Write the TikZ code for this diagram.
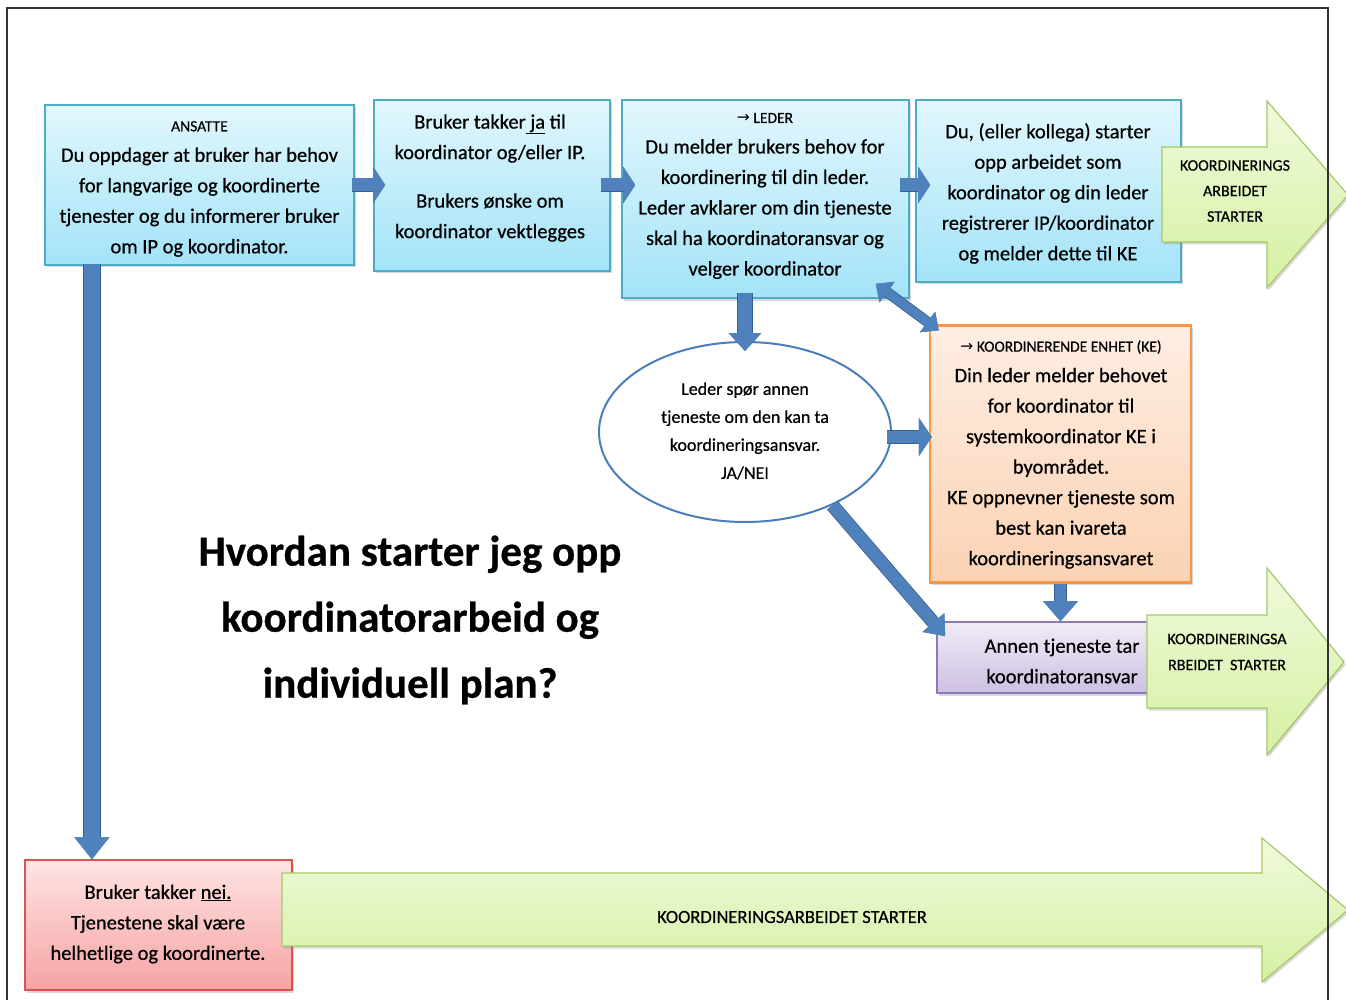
\documentclass[tikz,border=0pt]{standalone}
\usepackage{fontspec}
\setmainfont{Carlito}[FakeBold=0.6]
\newfontfamily\pilfont{DejaVu Sans}
\usetikzlibrary{shapes.geometric}
\usetikzlibrary{arrows.meta}
\usetikzlibrary{shadows}
\usetikzlibrary{calc}

\definecolor{kantblaa}{HTML}{4BACC6}
\definecolor{blaatopp}{HTML}{E2F7FD}
\definecolor{blaabunn}{HTML}{A3E3F8}
\definecolor{kantoransje}{HTML}{F79646}
\definecolor{oransjetopp}{HTML}{FEEEE3}
\definecolor{oransjebunn}{HTML}{FBD2B3}
\definecolor{kantlilla}{HTML}{8F78B8}
\definecolor{lillatopp}{HTML}{F0ECF6}
\definecolor{lillabunn}{HTML}{CDBFE2}
\definecolor{kantrod}{HTML}{D9534F}
\definecolor{rodtopp}{HTML}{FFE4E4}
\definecolor{rodbunn}{HTML}{F5A3A3}
\definecolor{kantgronn}{HTML}{A6C868}
\definecolor{gronntopp}{HTML}{F0FADC}
\definecolor{gronnbunn}{HTML}{D5F0A2}
\definecolor{pilblaa}{HTML}{4F81BD}
\definecolor{pilkant}{HTML}{36608F}
\definecolor{ellipsekant}{HTML}{4A7EBB}

\newcommand\brodtekst{\fontsize{20.5}{30.5}\selectfont}
\newcommand\overskrift{\fontsize{15.5}{28}\selectfont}

\tikzset{
  skygge/.style={drop shadow={shadow xshift=1.5pt, shadow yshift=-2.5pt, opacity=0.3}},
  blaaboks/.style={draw=kantblaa, line width=1.6pt, top color=blaatopp, bottom color=blaabunn, skygge},
  oransjeboks/.style={draw=kantoransje, line width=2.4pt, top color=oransjetopp, bottom color=oransjebunn, skygge},
  lillaboks/.style={draw=kantlilla, line width=1.6pt, top color=lillatopp, bottom color=lillabunn, skygge},
  rodboks/.style={draw=kantrod, line width=1.4pt, top color=rodtopp, bottom color=rodbunn, skygge},
  gronnpil/.style={draw=kantgronn, line width=1.2pt, top color=gronntopp, bottom color=gronnbunn, skygge},
  tekst/.style={align=center, inner sep=0pt, yshift=-3pt, font=\brodtekst},
  pil/.style n args={3}{draw=pilblaa, line width=#1,
    -{Triangle[length=#2, width=#3]},
    preaction={draw=pilkant, line width=#1+1.6pt,
      -{Triangle[length=#2, width=#3, line width=1.6pt]}}},
  dobbelpil/.style n args={3}{draw=pilblaa, line width=#1,
    {Triangle[length=#2, width=#3]}-{Triangle[length=#2, width=#3]},
    preaction={draw=pilkant, line width=#1+1.6pt,
      {Triangle[length=#2, width=#3, line width=1.6pt]}-{Triangle[length=#2, width=#3, line width=1.6pt]}}}
}

\begin{document}
\begin{tikzpicture}[x=1pt,y=-1pt]
  \useasboundingbox (0,0) rectangle (1346,1000);
  \fill[white] (0,0) rectangle (1346,1000);

  % boksene oeverst
  \node[blaaboks, line width=2.2pt, minimum width=309pt, minimum height=160pt] (ansatte) at (199.5,185) {};
  \node[tekst] (ansatte-tekst) at (199.5,186) {{\overskrift ANSATTE}\\Du oppdager at bruker har behov\\for langvarige og koordinerte\\tjenester og du informerer bruker\\om IP og koordinator.};

  \node[blaaboks, minimum width=236pt, minimum height=171pt] (brukerja) at (492,185.5) {};
  \node[tekst] (brukerja-tekst) at (490,175) {Bruker takker\underline{ ja} til\\koordinator og/eller IP.\\[18pt]Brukers ønske om\\koordinator vektlegges};

  \node[blaaboks, minimum width=287pt, minimum height=198pt] (leder) at (765.5,199) {};
  \node[tekst] (leder-tekst) at (765,193) {{\overskrift{\pilfont →} LEDER}\\Du melder brukers behov for\\koordinering til din leder.\\Leder avklarer om din tjeneste\\skal ha koordinatoransvar og\\velger koordinator};

  \node[blaaboks, minimum width=265pt, minimum height=182pt] (kollega) at (1048.5,191) {};
  \node[tekst] (kollega-tekst) at (1048,190.5) {Du, (eller kollega) starter\\opp arbeidet som\\koordinator og din leder\\registrerer IP/koordinator\\og melder dette til KE};

  \path[gronnpil] (1162,147) -- (1267,147) -- (1267,101) -- (1348,195) -- (1267,288) -- (1267,242) -- (1162,242) -- cycle;
  \node[tekst, font=\fontsize{16}{25.5}\selectfont] (gronn1) at (1235,188) {KOORDINERINGS\\ARBEIDET\\STARTER};

  % midten
  \node[ellipse, draw=ellipsekant, line width=2pt, fill=white, minimum width=292pt, minimum height=180pt] (sporsmal) at (745,432) {};
  \node[tekst, font=\fontsize{18}{28}\selectfont] (sporsmal-tekst) at (745,428) {Leder spør annen\\tjeneste om den kan ta\\koordineringsansvar.\\JA/NEI};

  \node[oransjeboks, minimum width=261pt, minimum height=257pt] (ke) at (1060.5,454) {};
  \node[tekst] (ke-tekst) at (1061,451.5) {{\overskrift{\pilfont →} KOORDINERENDE ENHET (KE)}\\Din leder melder behovet\\for koordinator til\\systemkoordinator KE i\\byområdet.\\KE oppnevner tjeneste som\\best kan ivareta\\koordineringsansvaret};

  \node[lillaboks, minimum width=250pt, minimum height=71pt] (annen) at (1062,657.5) {};
  \node[tekst] (annen-tekst) at (1062,658) {Annen tjeneste tar\\koordinatoransvar};

  \path[gronnpil] (1147,615) -- (1267,615) -- (1267,568) -- (1344,662) -- (1267,755) -- (1267,708) -- (1147,708) -- cycle;
  \node[tekst, font=\fontsize{16}{26}\selectfont] (gronn2) at (1227,649) {KOORDINERINGSA\\RBEIDET\ \ STARTER};

  \node[font=\bfseries\fontsize{43}{66}\selectfont, align=center, inner sep=0pt, yshift=-3pt] (tittel) at (410,617) {Hvordan starter jeg opp\\koordinatorarbeid og\\individuell plan?};

  % nederst
  \node[rodboks, minimum width=267pt, minimum height=130pt] (nei) at (158.5,925) {};
  \node[tekst] (nei-tekst) at (158,921) {Bruker takker \underline{nei.}\\Tjenestene skal være\\helhetlige og koordinerte.};

  \path[gronnpil] (282,873) -- (1262,873) -- (1262,838) -- (1348,910) -- (1262,982) -- (1262,946) -- (282,946) -- cycle;
  \node[tekst, font=\fontsize{18.5}{22}\selectfont] (gronn3) at (792,914) {KOORDINERINGSARBEIDET STARTER};

  % piler
  \draw[pil={13pt}{12pt}{36pt}] ($(ansatte.east)+(-3,0)$) -- ($(brukerja.west |- ansatte.east)+(12,0)$);
  \draw[pil={13pt}{12pt}{36pt}] ($(brukerja.east |- ansatte.east)+(-10,0)$) -- ($(leder.west |- ansatte.east)+(14,0)$);
  \draw[pil={13pt}{12pt}{36pt}] ($(leder.east |- ansatte.east)+(-10,0)$) -- ($(kollega.west |- ansatte.east)+(15,0)$);
  \draw[pil={14pt}{18pt}{32pt}] ($(sporsmal.north |- leder.south)+(0,-6)$) -- ($(sporsmal.north)+(0,10)$);
  \draw[dobbelpil={9pt}{14pt}{25pt}] ($(leder.south east)+(-34,-15)$) -- ($(ke.north west)+(10,6)$);
  \draw[pil={12pt}{13pt}{38pt}] ($(sporsmal.east)+(-5,5)$) -- ($(ke.west |- sporsmal.east)+(3,5)$);
  \draw[pil={11pt}{20pt}{34pt}] (ke.south) -- (ke.south |- annen.north);
  \draw[pil={12pt}{18pt}{28pt}] (sporsmal.-40) -- ($(annen.north west)+(9,15)$);
  \coordinate (ned) at ($(ansatte.south west)+(48,-2)$);
  \draw[pil={16pt}{22pt}{34pt}] (ned) -- (ned |- nei.north);

  % ramme
  \draw[line width=1.2pt, black!80] (7,1010) -- (7,8) -- (1328,8) -- (1328,1010);
\end{tikzpicture}
\end{document}
